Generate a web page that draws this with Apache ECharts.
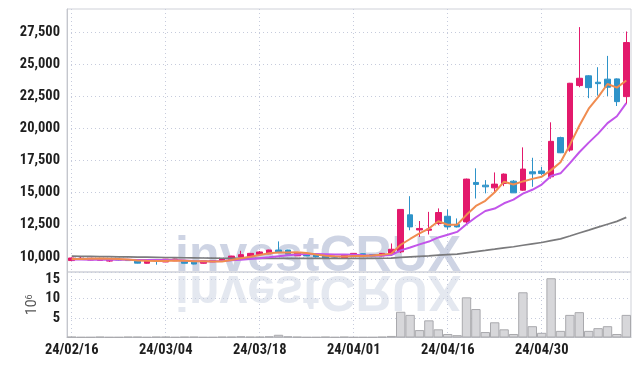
<!DOCTYPE html>
<html>
<head>
<meta charset="utf-8">
<script src="https://cdn.jsdelivr.net/npm/echarts@6/dist/echarts.min.js"></script>
<style>
    html, body { margin: 0; padding: 0; background: #fff; }
    #chart { width: 639px; height: 366px; }
</style>
</head>
<body>
<div id="chart"></div>
<script>
var dates = ["24/02/16", "24/02/19", "24/02/20", "24/02/21", "24/02/22", "24/02/23", "24/02/26", "24/02/27", "24/02/28", "24/02/29",
    "24/03/04", "24/03/05", "24/03/06", "24/03/07", "24/03/08", "24/03/11", "24/03/12", "24/03/13", "24/03/14", "24/03/15",
    "24/03/18", "24/03/19", "24/03/20", "24/03/21", "24/03/22", "24/03/25", "24/03/26", "24/03/27", "24/03/28", "24/03/29",
    "24/04/01", "24/04/02", "24/04/03", "24/04/04", "24/04/05", "24/04/08", "24/04/09", "24/04/11", "24/04/12", "24/04/15",
    "24/04/16", "24/04/17", "24/04/18", "24/04/19", "24/04/22", "24/04/23", "24/04/24", "24/04/25", "24/04/26", "24/04/29",
    "24/04/30", "24/05/02", "24/05/03", "24/05/07", "24/05/08", "24/05/09", "24/05/10", "24/05/13", "24/05/14", "24/05/16"];

var opens = [9720, 9820, 9760, 9730, 9680, 9800, 9800, 9720, 9510, 9720,
    9610, 9700, 9720, 9660, 9510, 9620, 9700, 9780, 9990, 10030,
    10190, 10240, 10540, 10540, 10090, 10230, 10180, 10080, 10040, 9950,
    10160, 10250, 10180, 10080, 10250, 10400, 13280, 12100, 12080, 12600,
    13170, 12530, 12730, 15800, 15590, 15380, 15720, 15900, 15200, 16630,
    16690, 16240, 19290, 18320, 23340, 24100, 23600, 23840, 23860, 22480];
var closes = [9920, 9900, 9900, 9850, 9780, 9760, 9720, 9520, 9700, 9690,
    9830, 9840, 9510, 9450, 9700, 9720, 9850, 10070, 10180, 10280,
    10390, 10540, 10340, 10220, 10300, 10080, 10000, 9880, 9980, 10190,
    10280, 10080, 10080, 10280, 10600, 13700, 12340, 12220, 12180, 13460,
    12340, 12340, 16060, 15650, 15460, 15670, 16450, 14990, 16840, 16470,
    16500, 19000, 18110, 23520, 23910, 23180, 23490, 23210, 22090, 26690];
var lows = [9700, 9800, 9740, 9700, 9610, 9720, 9700, 9500, 9480, 9400,
    9600, 9680, 9500, 9430, 9480, 9600, 9680, 9700, 9970, 10010,
    10170, 10220, 10320, 10200, 10070, 10060, 9980, 9860, 9880, 9930,
    10140, 10060, 10060, 10060, 10200, 10300, 12080, 11560, 11750, 12470,
    12140, 12300, 12530, 14550, 14950, 15020, 15510, 14990, 15150, 15460,
    16370, 16100, 18080, 18190, 23210, 22360, 22560, 22530, 21750, 21910];
var highs = [9950, 10020, 9920, 9880, 9800, 9830, 9820, 9740, 9720, 9820,
    9850, 9860, 9740, 9680, 9720, 9760, 9870, 10090, 10480, 10300,
    10460, 10560, 11210, 10560, 10320, 10250, 10200, 10100, 10060, 10210,
    10300, 10270, 10200, 10300, 11050, 13700, 14730, 12800, 13510, 13780,
    13700, 13000, 16100, 16900, 15980, 16580, 16500, 15980, 18530, 17720,
    17020, 20480, 19360, 23550, 27890, 24150, 24770, 25650, 23900, 27550];

var ma5 = [9840, 9850, 9870, 9880, 9870, 9840, 9800, 9730, 9700, 9680,
    9690, 9720, 9710, 9660, 9670, 9640, 9650, 9760, 9900, 10020,
    10150, 10290, 10350, 10350, 10360, 10300, 10190, 10100, 10050, 10030,
    10070, 10080, 10120, 10180, 10260, 10950, 11400, 11830, 12210, 12780,
    12510, 12510, 13280, 13970, 14370, 15040, 15860, 15640, 15880, 16080,
    16250, 16760, 17380, 18720, 20210, 21540, 22440, 23460, 23180, 23730];
var ma10 = [9800, 9800, 9790, 9790, 9790, 9780, 9780, 9770, 9770, 9770,
    9770, 9760, 9720, 9680, 9670, 9670, 9680, 9740, 9780, 9840,
    9900, 9970, 10050, 10130, 10190, 10230, 10240, 10220, 10200, 10190,
    10180, 10140, 10110, 10120, 10150, 10510, 10740, 10980, 11200, 11520,
    11730, 11950, 12550, 13090, 13580, 13770, 14180, 14460, 14930, 15230,
    15640, 16310, 16510, 17300, 18150, 18900, 19600, 20420, 20950, 21970];
var ma60 = [10060, 10050, 10040, 10030, 10020, 10010, 10000, 9990, 9980, 9970,
    9960, 9950, 9940, 9930, 9920, 9910, 9900, 9900, 9890, 9890,
    9890, 9890, 9890, 9890, 9890, 9890, 9890, 9890, 9890, 9890,
    9890, 9890, 9890, 9900, 9910, 9970, 10010, 10050, 10085, 10145,
    10185, 10225, 10325, 10420, 10510, 10605, 10710, 10795, 10910, 11020,
    11125, 11275, 11410, 11635, 11865, 12090, 12320, 12550, 12770, 13080];

// volume in millions of shares
var volumes = [0.2, 0.1, 0.1, 0.2, 0.1, 0.1, 0.2, 0.2, 0.1, 0.2,
    0.2, 0.1, 0.2, 0.2, 0.1, 0.1, 0.2, 0.2, 0.3, 0.2,
    0.2, 0.3, 0.7, 0.3, 0.2, 0.1, 0.1, 0.2, 0.1, 0.2,
    0.1, 0.1, 0.1, 0.2, 0.4, 6.6, 5.8, 1.9, 4.4, 2.1,
    0.9, 0.6, 10.3, 7.3, 1.4, 3.9, 2.1, 0.9, 11.6, 2.9,
    1.2, 15.2, 1.7, 5.8, 6.5, 1.7, 2.4, 2.9, 0.9, 5.8];

var priceTicks = [10000, 12500, 15000, 17500, 20000, 22500, 25000, 27500];

var UP = "#e3196c";
var DOWN = "#2e93c9";
var GRID_LINE = { show: true, lineStyle: { color: "#c6cbdc", type: [1, 3], width: 1 } };
var WM_FONT = "bold 50px 'Liberation Sans', sans-serif";
var LABEL = {
    color: "#1e1e1e", fontSize: 14.5, fontWeight: "bold", fontFamily: "'Roboto Condensed', Roboto"
};

var candles = [];
for (var i = 0; i < dates.length; ++i) {
    candles.push([opens[i], closes[i], lows[i], highs[i]]);
}

var chart = echarts.init(document.getElementById("chart"), null, { renderer: "canvas" });

var option = {
    animation: false,
    backgroundColor: "#fff",
    grid: [
        { left: 67, right: 8, top: 9, height: 263, show: true, borderColor: "#cfd1d8", borderWidth: 1 },
        { left: 67, right: 8, top: 272, height: 65.5, show: true, borderColor: "#cfd1d8", borderWidth: 1 }
    ],
    graphic: [
        {
            type: "text", x: 175, y: 232, z: 1, silent: true,
            style: { text: "investCRUX", fill: "rgba(176,186,212,0.62)", font: WM_FONT }
        },
        {
            type: "text", x: 175, y: 315, scaleY: -1, z: 1, silent: true,
            style: { text: "investCRUX", fill: "rgba(196,203,222,0.45)", font: WM_FONT }
        }
    ],
    xAxis: [
        {
            type: "category", gridIndex: 0, data: dates, boundaryGap: true,
            axisLine: { show: false }, axisTick: { show: false, alignWithLabel: true },
            axisLabel: { show: false, interval: 9 },
            splitLine: { show: true, interval: 9, alignWithLabel: true, lineStyle: GRID_LINE.lineStyle }
        },
        {
            type: "category", gridIndex: 1, data: dates, boundaryGap: true,
            axisLine: { show: true, lineStyle: { color: "#c4c6cc" } },
            axisTick: { show: false, alignWithLabel: true },
            axisLabel: Object.assign({ interval: 9, margin: 5 }, LABEL),
            splitLine: { show: true, interval: 9, alignWithLabel: true, lineStyle: GRID_LINE.lineStyle }
        }
    ],
    yAxis: [
        {
            type: "value", gridIndex: 0, min: 8830, max: 29300,
            axisLine: { show: true, lineStyle: { color: "#c4c6cc" } },
            axisTick: { show: false, customValues: priceTicks },
            axisLabel: Object.assign({
                customValues: priceTicks, margin: 7,
                formatter: function (v) { return v.toLocaleString("en-US"); }
            }, LABEL),
            splitLine: GRID_LINE
        },
        {
            type: "value", gridIndex: 1, min: 0, max: 16.8, interval: 5,
            axisLine: { show: true, lineStyle: { color: "#c4c6cc" } },
            axisTick: { show: false },
            axisLabel: Object.assign({ margin: 7, showMinLabel: false, showMaxLabel: false }, LABEL),
            splitLine: GRID_LINE,
            name: "{b|10}{s|6}", nameLocation: "middle", nameRotate: 90, nameGap: 27,
            nameMoveOverlap: false,
            nameTextStyle: {
                rich: {
                    b: { fontSize: 14, color: "#555", fontFamily: "Roboto" },
                    s: { fontSize: 9, color: "#555", fontFamily: "Roboto", verticalAlign: "top", padding: [0, 0, 6, 0] }
                }
            }
        }
    ],
    series: [
        {
            name: "volume", type: "bar", xAxisIndex: 1, yAxisIndex: 1, data: volumes,
            barCategoryGap: "0%", z: 2,
            itemStyle: { color: "#d7d7da", borderColor: "#a9a9ad", borderWidth: 1 }
        },
        {
            name: "price", type: "candlestick", xAxisIndex: 0, yAxisIndex: 0, data: candles,
            barWidth: 6, z: 3,
            itemStyle: { color: UP, color0: DOWN, borderColor: UP, borderColor0: DOWN, borderWidth: 1 }
        },
        {
            name: "MA60", type: "line", data: ma60, showSymbol: false, z: 4,
            lineStyle: { color: "#7a7a7c", width: 1.7 }
        },
        {
            name: "MA10", type: "line", data: ma10, showSymbol: false, z: 4,
            lineStyle: { color: "#c255ea", width: 2 }
        },
        {
            name: "MA5", type: "line", data: ma5, showSymbol: false, z: 5,
            lineStyle: { color: "#f08c50", width: 2 }
        }
    ]
};

chart.setOption(option);
</script>
</body>
</html>
